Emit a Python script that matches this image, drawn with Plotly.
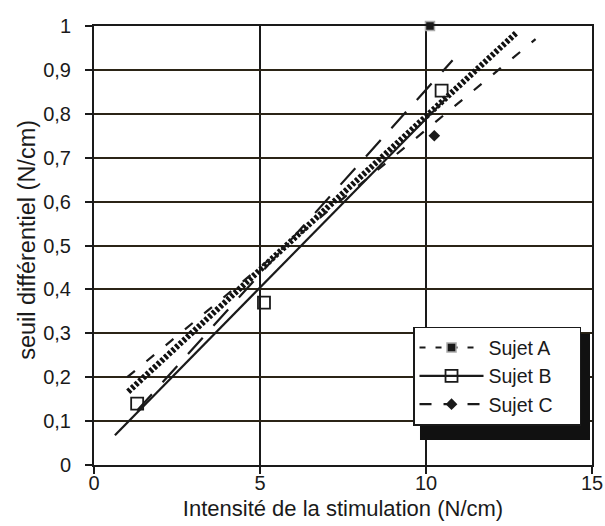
import plotly.graph_objects as go

# Data
# Sujet A: measured point and regression line (short dashes)
a_x = [10.12]
a_y = [1.0]
a_line_x = [1.0, 13.3]
a_line_y = [0.20, 0.97]

# Sujet B: measured points and regression line (solid)
b_x = [1.3, 5.12, 10.47]
b_y = [0.14, 0.37, 0.853]
b_line_x = [0.63, 10.6]
b_line_y = [0.068, 0.835]

# Sujet C: measured point and regression line (long dashes)
c_x = [10.25]
c_y = [0.75]
c_line_x = [1.3, 10.8]
c_line_y = [0.124, 0.922]

# Common (hatched) line
m_line_x = [1.03, 12.73]
m_line_y = [0.167, 0.985]

x_ticks = [0, 5, 10, 15]
y_ticks = [0, 0.1, 0.2, 0.3, 0.4, 0.5, 0.6, 0.7, 0.8, 0.9, 1.0]
y_ticktext = ["0", "0,1", "0,2", "0,3", "0,4", "0,5", "0,6", "0,7", "0,8", "0,9", "1"]
names = ["Sujet A", "Sujet B", "Sujet C"]

FONT = "Liberation Sans, Arial, sans-serif"
INK = "#1a1a1a"
PAD = "\u00a0" * 4


def points_with_gaps(xs, ys):
    gx, gy = [], []
    for i, (x, y) in enumerate(zip(xs, ys)):
        if i:
            gx.append(None)
            gy.append(None)
        gx.append(x)
        gy.append(y)
    return gx, gy


fig = go.Figure()

# regression lines (no legend)
fig.add_trace(go.Scatter(x=m_line_x, y=m_line_y, mode="lines", showlegend=False,
                         line=dict(color="#111", width=6, dash="3px,2px")))
fig.add_trace(go.Scatter(x=a_line_x, y=a_line_y, mode="lines", showlegend=False,
                         line=dict(color=INK, width=2.2, dash="10px,15px")))
fig.add_trace(go.Scatter(x=b_line_x, y=b_line_y, mode="lines", showlegend=False,
                         line=dict(color=INK, width=2.2)))
fig.add_trace(go.Scatter(x=c_line_x, y=c_line_y, mode="lines", showlegend=False,
                         line=dict(color=INK, width=2.2, dash="22px,16px")))

# points (legend entries)
ax_, ay_ = points_with_gaps(a_x, a_y)
fig.add_trace(go.Scatter(x=ax_, y=ay_, mode="lines+markers", name=names[0] + PAD, cliponaxis=False,
                         line=dict(color=INK, width=2.2, dash="6px,10px"),
                         marker=dict(symbol="square", size=9, color=INK,
                                     line=dict(color="#aaa", width=1.5))))
bx_, by_ = points_with_gaps(b_x, b_y)
fig.add_trace(go.Scatter(x=bx_, y=by_, mode="lines+markers", name=names[1] + PAD, cliponaxis=False,
                         line=dict(color=INK, width=2.2),
                         marker=dict(symbol="square-open", size=12, color=INK,
                                     line=dict(color=INK, width=1.8))))
cx_, cy_ = points_with_gaps(c_x, c_y)
fig.add_trace(go.Scatter(x=cx_, y=cy_, mode="lines+markers", name=names[2] + PAD, cliponaxis=False,
                         line=dict(color=INK, width=2.2, dash="12px,12px"),
                         marker=dict(symbol="diamond", size=9, color=INK)))

fig.update_layout(
    width=605, height=526,
    margin=dict(l=94, r=13, t=26, b=61),
    paper_bgcolor="white", plot_bgcolor="white",
    font=dict(family=FONT, color=INK, size=20),
    legend=dict(x=0.6406, y=0.3147, xanchor="left", yanchor="top",
                bgcolor="white", bordercolor=INK, borderwidth=1.5,
                font=dict(size=19.5, family=FONT, color=INK),
                itemwidth=64),
    shapes=[dict(type="rect", xref="paper", yref="paper",
                 x0=0.6546, x1=0.996, y0=0.057, y1=0.2987,
                 fillcolor="#111", line=dict(width=0), layer="above")],
    annotations=[dict(text="seuil différentiel (N/cm)", xref="paper", yref="paper",
                      x=-0.1345, y=0.513, xanchor="center", yanchor="middle",
                      textangle=-90, showarrow=False,
                      font=dict(size=23.5, family=FONT, color=INK))],
)

fig.update_xaxes(range=[0, 15], tickvals=x_ticks, ticktext=[str(v) for v in x_ticks],
                 showgrid=True, gridcolor=INK, gridwidth=1.8,
                 showline=True, linecolor=INK, linewidth=2, mirror=True,
                 ticks="outside", ticklen=7, tickwidth=2, tickcolor=INK,
                 zeroline=False, tickfont=dict(size=20), automargin=False,
                 ticklabelstandoff=-8,
                 title=dict(text="Intensité de la stimulation (N/cm)", font=dict(size=22), standoff=8))
fig.update_yaxes(range=[0, 1], tickvals=y_ticks, ticktext=y_ticktext,
                 showgrid=True, gridcolor="#2b2416", gridwidth=1.8,
                 showline=True, linecolor=INK, linewidth=2, mirror=True,
                 ticks="outside", ticklen=7, tickwidth=2, tickcolor=INK,
                 zeroline=False, tickfont=dict(size=20), automargin=False,
                 ticklabelstandoff=10)

fig.write_html("out.html", config={"displayModeBar": False},
               post_script="document.body.style.margin='0';document.body.style.overflow='hidden';")
